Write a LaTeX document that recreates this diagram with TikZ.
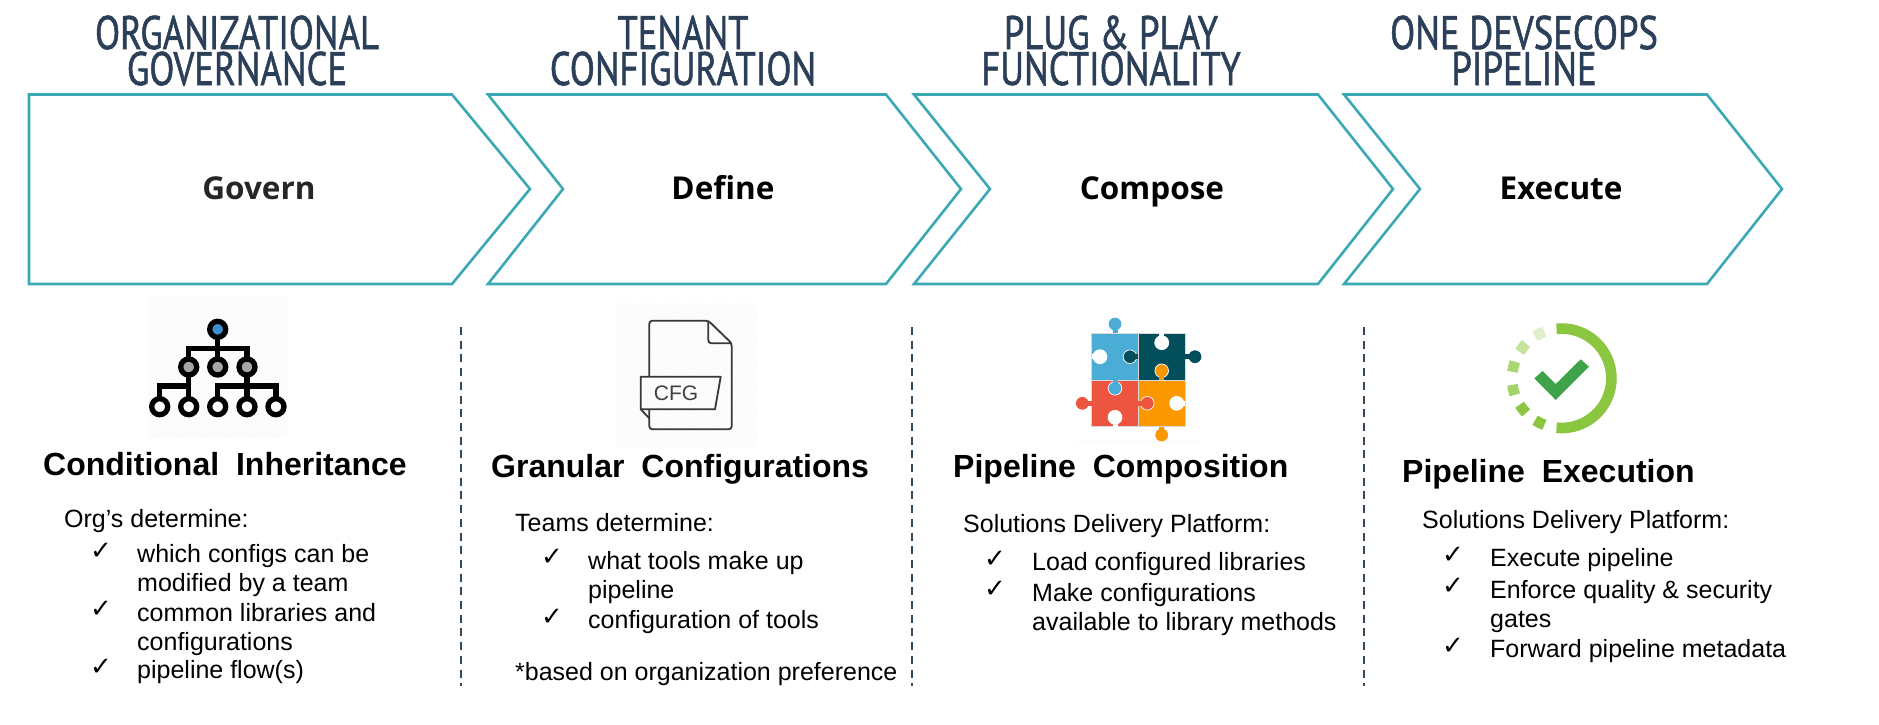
\documentclass[tikz,border=0pt]{standalone}
\usepackage{fontspec}
\setmainfont{Liberation Sans}
\newfontfamily\chevfont{Open Sans}
\newfontfamily\headfont[RawFeature={embolden=1.3}]{PT Sans}
\newfontfamily\tickfont{DejaVu Sans}
\newfontfamily\titlefont[WordSpace=1.9]{Liberation Sans Bold}
\usepackage{tikz}
\usetikzlibrary{patterns}
\definecolor{tealline}{HTML}{3AA9B4}
\definecolor{navyhead}{HTML}{2B3F58}
\definecolor{dashnavy}{HTML}{34495E}
\definecolor{treeblue}{HTML}{3A8FCF}
\definecolor{pzblue}{HTML}{4BACD6}
\definecolor{pzteal}{HTML}{034E5B}
\definecolor{pzred}{HTML}{EE5540}
\definecolor{pzorange}{HTML}{FB9800}
\definecolor{okgreen}{HTML}{8AC640}
\definecolor{okdark}{HTML}{3FA34A}
\newcommand{\pzknob}[5]{%
    \filldraw[fill=#4, draw=#3, line width=0.7pt] (#2) circle (#5);
    \draw[#4, line width=5pt] (#1) -- (#2);
}
\begin{document}
\begin{tikzpicture}[x=1pt, y=-1pt,
        head/.style={font=\headfont\fontsize{47}{36}\selectfont, text=navyhead, align=center, anchor=base, inner sep=0pt, xscale=0.78, transform shape},
        chev/.style={draw=tealline, line width=2.6pt, line join=miter},
        steplabel/.style={font=\chevfont\bfseries\fontsize{31.5}{34}\selectfont, anchor=base, inner sep=0pt, text=black!85},
        coltitle/.style={font=\titlefont\fontsize{32}{36}\selectfont, anchor=base west, inner sep=0pt},
        leadtext/.style={font=\fontsize{25}{29}\selectfont, anchor=base west, inner sep=0pt},
        itemtext/.style={font=\fontsize{25}{29}\selectfont, anchor=base west, align=left, inner sep=0pt, yshift=-0.7pt},
        tickmark/.style={font=\tickfont\fontsize{26}{29}\selectfont, anchor=base west, inner sep=0pt, yshift=3pt, xshift=-2pt},
        sepline/.style={draw=dashnavy, line width=1.5pt, dash pattern=on 8pt off 5.7pt},
        hatchbox/.style={pattern=north east lines, pattern color=black!4},
        treeline/.style={line width=5.3pt, black},
        fileline/.style={line width=1.8pt, black!78, rounded corners=3pt, line join=round}
    ]
        \useasboundingbox (0,0) rectangle (1879,725);
        % headings
        \node[head] (h1) at (237,85) {ORGANIZATIONAL\\GOVERNANCE};
        \node[head] (h2) at (683,85) {TENANT\\CONFIGURATION};
        \node[head] (h3) at (1111,85) {PLUG \& PLAY\\FUNCTIONALITY};
        \node[head] (h4) at (1524,85) {ONE DEVSECOPS\\PIPELINE};
        % chevrons
        \draw[chev] (29,94.5) -- (452,94.5) -- (530,189) -- (452,284) -- (29,284) -- cycle;
        \draw[chev] (488,94.5) -- (886,94.5) -- (961,189) -- (886,284) -- (488,284) -- (563,189) -- cycle;
        \draw[chev] (914,94.5) -- (1318,94.5) -- (1393,189) -- (1318,284) -- (914,284) -- (990,189) -- cycle;
        \draw[chev] (1344,94.5) -- (1707,94.5) -- (1782,189) -- (1707,284) -- (1344,284) -- (1420,189) -- cycle;
        \node[steplabel] (s1) at (259,199) {Govern};
        \node[steplabel, text=black] (s2) at (723,199) {Define};
        \node[steplabel, text=black] (s3) at (1152,199) {Compose};
        \node[steplabel, text=black] (s4) at (1561,199) {Execute};
        % separators
        \draw[sepline] (461,327) -- (461,686);
        \draw[sepline] (912,327) -- (912,686);
        \draw[sepline] (1364,327) -- (1364,686);
        % tree icon
        \fill[hatchbox] (148,297) rectangle (287,437);
        \draw[treeline] (217.7,329) -- (217.7,367) (188.7,367) -- (188.7,348.3) -- (247,348.3) -- (247,367);
        \draw[treeline] (188.7,367) -- (188.7,406) (159.7,406) -- (159.7,386) -- (188.7,386);
        \draw[treeline] (247,367) -- (247,406) (217.7,406) -- (217.7,386) -- (276,386) -- (276,406);
        \filldraw[treeline, fill=treeblue] (217.7,329.3) circle (8);
        \foreach \cx in {188.7,217.7,247} \filldraw[treeline, fill=black!35] (\cx,367) circle (8);
        \foreach \cx in {159.7,188.7,217.7,247,276} \filldraw[treeline, fill=white] (\cx,406.7) circle (8);
        % file icon
        \fill[hatchbox] (616,303) rectangle (757,447);
        \draw[fileline] (649.3,376.7) -- (649.3,320.7) -- (708.3,320.7) -- (731.7,343.3) -- (731.7,429.3) -- (649.3,429.3) -- (649.3,409.3);
        \draw[fileline] (708.3,320.7) -- (708.3,343.3) -- (731.7,343.3);
        \draw[line width=1.8pt, black!78, line join=round] (640.7,376.7) -- (720.7,376.7) -- (715,409.3) -- (640.7,409.3) -- cycle;
        \draw[line width=1.8pt, black!78, line join=round] (640.7,409.3) -- (649.3,418.3);
        \node[font=\fontsize{21}{21}\selectfont, text=black!75, inner sep=0pt] (cfg) at (676,393) {CFG};
        % puzzle icon
        \fill[black!3] (1075,440.7) rectangle (1201.7,442.2);
        \filldraw[fill=pzblue, draw=white!85!black, line width=0.7pt] (1091.7,333.3) rectangle (1138.3,380);
        \filldraw[fill=pzteal, draw=white!85!black, line width=0.7pt] (1138.3,333.3) rectangle (1185,380);
        \filldraw[fill=pzred, draw=white!85!black, line width=0.7pt] (1091.7,380) rectangle (1138.3,426.7);
        \filldraw[fill=pzorange, draw=white!85!black, line width=0.7pt] (1138.3,380) rectangle (1185,426.7);
        \pzknob{1115,333.3}{1115,324}{pzblue}{pzblue}{6}
        \pzknob{1091.7,356.7}{1100,356.7}{white}{white}{7}
        \pzknob{1138.3,356.7}{1130,356.7}{white}{pzteal}{6.8}
        \pzknob{1161.7,333.3}{1161.7,342.7}{white}{white}{7}
        \pzknob{1185,356.7}{1195,356.7}{pzteal}{pzteal}{6}
        \pzknob{1161.7,380}{1161.7,370.7}{white}{pzorange}{6.8}
        \pzknob{1115,380}{1115,388.3}{white}{pzblue}{6.8}
        \pzknob{1091.7,403.3}{1082.3,403.3}{pzred}{pzred}{6}
        \pzknob{1138.3,403.3}{1147.3,403.3}{white}{pzred}{6.8}
        \pzknob{1185,403.3}{1176.7,403.3}{white}{white}{7}
        \pzknob{1115,426.7}{1115,417.3}{white}{white}{7}
        \pzknob{1161.7,426.7}{1161.7,435}{pzorange}{pzorange}{6}
        % check icon
        \draw[line width=10.7pt, okgreen] (1561.7,378.3) ++(-96:49.7) arc (-96:96:49.7);
        \foreach \ang/\shade in {-116.4/28, -141.8/50, -166.5/72, 166.5/78, 141.8/100, 116.4/100}
            \draw[line width=10.7pt, draw=okgreen!\shade!white] (1561.7,378.3) ++(\ang-6:49.7) arc (\ang-6:\ang+6:49.7);
        \fill[okdark] (1534.3,378.3) -- (1555.7,400) -- (1589,366.7) -- (1580.7,359.3) -- (1555.7,384) -- (1542.7,371) -- cycle;
        % first column
        \node[coltitle] (t1) at (43,475) {Conditional Inheritance};
        \node[leadtext] (l1) at (64,527) {Org’s determine:};
        \node[tickmark] (c11) at (92,562) {✓};
        \node[itemtext] (i11) at (137,591) {which configs can be\\modified by a team};
        \node[tickmark] (c12) at (92,620) {✓};
        \node[itemtext] (i12) at (137,650) {common libraries and\\configurations};
        \node[tickmark] (c13) at (92,678) {✓};
        \node[itemtext] (i13) at (137,678) {pipeline flow(s)};
        % second column
        \node[coltitle] (t2) at (491,477) {Granular Configurations};
        \node[leadtext] (l2) at (515,531) {Teams determine:};
        \node[tickmark] (c21) at (543,568) {✓};
        \node[itemtext] (i21) at (588,598) {what tools make up\\pipeline};
        \node[tickmark] (c22) at (543,628) {✓};
        \node[itemtext] (i22) at (588,628) {configuration of tools};
        \node[leadtext] (n2) at (515,680) {*based on organization preference};
        % third column
        \node[coltitle] (t3) at (953,477) {Pipeline Composition};
        \node[leadtext] (l3) at (963,532) {Solutions Delivery Platform:};
        \node[tickmark] (c31) at (986,570) {✓};
        \node[itemtext] (i31) at (1032,570) {Load configured libraries};
        \node[tickmark] (c32) at (986,600) {✓};
        \node[itemtext] (i32) at (1032,630) {Make configurations\\available to library methods};
        % fourth column
        \node[coltitle] (t4) at (1402,482) {Pipeline Execution};
        \node[leadtext] (l4) at (1422,528) {Solutions Delivery Platform:};
        \node[tickmark] (c41) at (1444,566) {✓};
        \node[itemtext] (i41) at (1490,566) {Execute pipeline};
        \node[tickmark] (c42) at (1444,597) {✓};
        \node[itemtext] (i42) at (1490,627) {Enforce quality \& security\\gates};
        \node[tickmark] (c43) at (1444,657) {✓};
        \node[itemtext] (i43) at (1490,657) {Forward pipeline metadata};
    \end{tikzpicture}
\end{document}
